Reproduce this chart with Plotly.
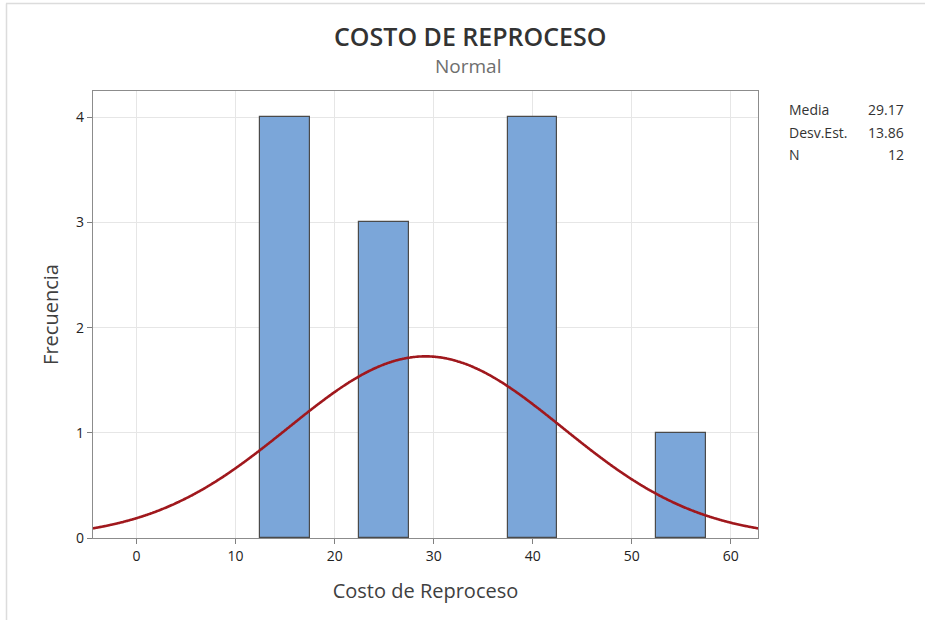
import numpy as np
import plotly.graph_objects as go

# Histogram of rework cost (bin midpoints, width 5)
bin_centers = [15, 25, 40, 55]
bin_counts = [4, 3, 4, 1]
bin_width = 5

# Summary statistics of the sample
mean_val = 29.17
std_val = 13.86
n_obs = 12

x_ticks = [0, 10, 20, 30, 40, 50, 60]
y_ticks = [0, 1, 2, 3, 4]

W, H = 925, 620
L, R, T, B = 93, 167, 91, 82
pw, ph = W - L - R, H - T - B

fig = go.Figure()

fig.add_trace(go.Bar(
    x=bin_centers, y=bin_counts, width=[bin_width] * len(bin_centers),
    marker=dict(color="#7BA6D9", line=dict(color="#4A4A4A", width=1.2)),
    hoverinfo="x+y", showlegend=False,
))

# Fitted normal curve scaled to counts
xs = np.linspace(-4.5, 63, 600)
ys = n_obs * bin_width * np.exp(-0.5 * ((xs - mean_val) / std_val) ** 2) / (std_val * np.sqrt(2 * np.pi))
fig.add_trace(go.Scatter(
    x=xs, y=ys, mode="lines",
    line=dict(color="#A0181D", width=2.6, shape="spline"),
    showlegend=False, hoverinfo="skip",
))

font_family = "Open Sans, Noto Sans, sans-serif"

fig.update_layout(
    width=W, height=H,
    margin=dict(l=L, r=R, t=T, b=B),
    paper_bgcolor="white", plot_bgcolor="white",
    font=dict(family=font_family, color="#333333"),
    bargap=0,
    xaxis=dict(
        range=[-4.4, 62.75], tickvals=x_ticks, ticks="outside", ticklen=5,
        tickcolor="#808080", showgrid=True, gridcolor="#E6E6E6", gridwidth=1,
        showline=True, linecolor="#8C8C8C", linewidth=1.2, mirror=True,
        zeroline=False, tickfont=dict(size=14, color="#222222"),
        title=dict(text="Costo de Reproceso", font=dict(size=20, color="#404040"), standoff=20),
    ),
    yaxis=dict(
        range=[0, 4.25], tickvals=y_ticks, ticks="outside", ticklen=5,
        tickcolor="#808080", showgrid=True, gridcolor="#E6E6E6", gridwidth=1,
        showline=True, linecolor="#8C8C8C", linewidth=1.2, mirror=True,
        zeroline=False, tickfont=dict(size=14, color="#222222"),
        title=dict(text="Frecuencia", font=dict(size=20, color="#404040"), standoff=12),
    ),
)

# Title and subtitle
fig.add_annotation(
    text="COSTO DE REPROCESO", xref="paper", yref="paper",
    x=(470 - L) / pw, y=1 + (T - 36) / ph, xanchor="center", yanchor="middle",
    showarrow=False, font=dict(size=25, color="#333333", family=font_family, weight=600),
)
fig.add_annotation(
    text="Normal", xref="paper", yref="paper",
    x=(468 - L) / pw, y=1 + (T - 66) / ph, xanchor="center", yanchor="middle",
    showarrow=False, font=dict(size=19, color="#6E6E6E", family=font_family),
)

# Statistics box
stat_labels = ["Media", "Desv.Est.", "N"]
stat_values = [f"{mean_val:.2f}", f"{std_val:.2f}", f"{n_obs}"]
row_y = [110, 132, 154]
for lab, val, yy in zip(stat_labels, stat_values, row_y):
    fig.add_annotation(
        text=lab, xref="paper", yref="paper",
        x=(787 - L) / pw, y=1 - (yy - T) / ph, xanchor="left", yanchor="middle",
        showarrow=False, font=dict(size=14, color="#333333", family=font_family),
    )
    fig.add_annotation(
        text=val, xref="paper", yref="paper",
        x=(906 - L) / pw, y=1 - (yy - T) / ph, xanchor="right", yanchor="middle",
        showarrow=False, font=dict(size=14, color="#333333", family=font_family),
    )

# Thin frame along the top and left page edges
fig.add_shape(type="line", xref="paper", yref="paper",
              x0=(6 - L) / pw, x1=(925 - L) / pw, y0=1 + (T - 3.5) / ph, y1=1 + (T - 3.5) / ph,
              line=dict(color="#DCDCDC", width=1.5))
fig.add_shape(type="line", xref="paper", yref="paper",
              x0=(6.5 - L) / pw, x1=(6.5 - L) / pw, y0=1 + (T - 3.5) / ph, y1=-(B) / ph,
              line=dict(color="#DCDCDC", width=1.5))

fig.write_html("out.html")
